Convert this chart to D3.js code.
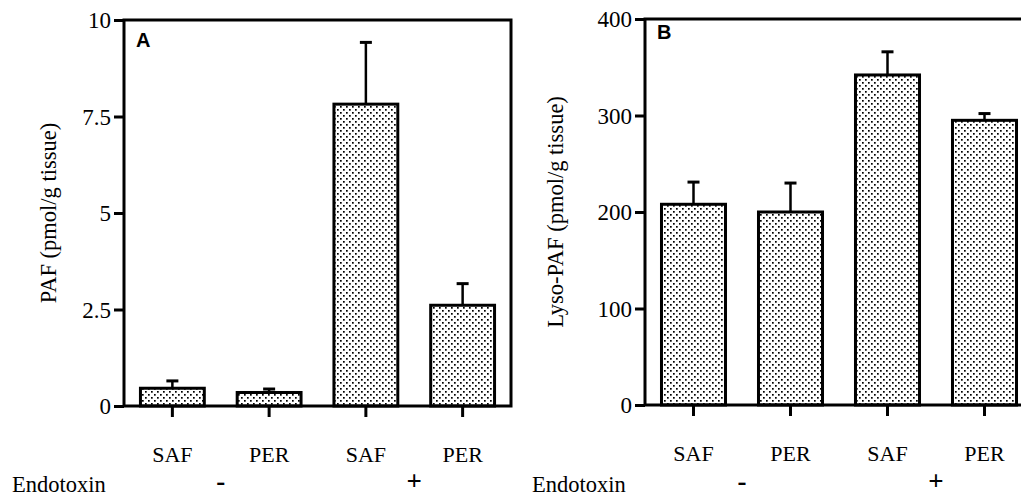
<!DOCTYPE html>
<html><head><meta charset="utf-8">
<script src="https://cdn.jsdelivr.net/npm/d3@7"></script>
<style>html,body{margin:0;padding:0;background:#fff;}svg{display:block;}</style>
</head><body>
<svg id="chart" width="1021" height="498"></svg>
<script>
const categories = ["SAF", "PER", "SAF", "PER"];
const endotoxinGroups = ["-", "+"];
const pafMean = [0.46, 0.35, 7.82, 2.61];
const pafSem = [0.19, 0.09, 1.60, 0.56];
const lysoMean = [208, 200, 342, 295];
const lysoSem = [23, 30, 24, 7];
const pafTicks = [0, 2.5, 5, 7.5, 10];
const lysoTicks = [0, 100, 200, 300, 400];

const svg = d3.select("#chart");
const defs = svg.append("defs");
const pat = defs.append("pattern").attr("id", "dots").attr("patternUnits", "userSpaceOnUse")
  .attr("width", 6).attr("height", 6);
pat.append("rect").attr("width", 6).attr("height", 6).attr("fill", "#fff");
pat.append("rect").attr("x", 1).attr("y", 1).attr("width", 1.7).attr("height", 1.7).attr("fill", "#000");
pat.append("rect").attr("x", 4).attr("y", 4).attr("width", 1.7).attr("height", 1.7).attr("fill", "#000");

const serif = "Liberation Serif, Times New Roman, serif";

function panel(opts) {
  const {x0, x1, yTop, yBot, domainMax, ticks, tickFmt, means, sems, label, ylabel, ylabelX, endoX, letterY} = opts;
  const g = svg.append("g");
  const ids = categories.map((c, i) => i);
  const x = d3.scaleBand().domain(ids).range([x0, x1]).paddingInner(0.34).paddingOuter(0.17);
  const y = d3.scaleLinear().domain([0, domainMax]).range([yBot, yTop]);

  g.selectAll("rect.bar").data(ids).join("rect")
    .attr("x", i => x(i)).attr("width", x.bandwidth())
    .attr("y", i => y(means[i])).attr("height", i => y(0) - y(means[i]))
    .attr("fill", "url(#dots)").attr("stroke", "#000").attr("stroke-width", 3);
  const cap = 6;
  g.selectAll("line.err").data(ids).join("line")
    .attr("x1", i => x(i) + x.bandwidth() / 2).attr("x2", i => x(i) + x.bandwidth() / 2)
    .attr("y1", i => y(means[i])).attr("y2", i => y(means[i] + sems[i]))
    .attr("stroke", "#000").attr("stroke-width", 2.5);
  g.selectAll("line.cap").data(ids).join("line")
    .attr("x1", i => x(i) + x.bandwidth() / 2 - cap).attr("x2", i => x(i) + x.bandwidth() / 2 + cap)
    .attr("y1", i => y(means[i] + sems[i])).attr("y2", i => y(means[i] + sems[i]))
    .attr("stroke", "#000").attr("stroke-width", 3);

  const ya = g.append("g").attr("transform", `translate(${x0},0)`)
    .call(d3.axisLeft(y).tickValues(ticks).tickFormat(tickFmt).tickSize(10).tickPadding(3));
  ya.select(".domain").remove();
  ya.selectAll(".tick line").attr("stroke-width", 3);
  ya.selectAll("text").attr("font-family", serif).attr("font-size", 23).attr("fill", "#000").attr("dy", "0.34em");

  const xa = g.append("g").attr("transform", `translate(0,${yBot})`)
    .call(d3.axisBottom(x).tickSize(11).tickFormat(i => categories[i]).tickPadding(29));
  xa.select(".domain").remove();
  xa.selectAll(".tick line").attr("stroke-width", 3);
  xa.selectAll("text").attr("font-family", serif).attr("font-size", 22).attr("fill", "#000");

  g.append("rect").attr("x", x0).attr("y", yTop).attr("width", x1 - x0).attr("height", yBot - yTop)
    .attr("fill", "none").attr("stroke", "#000").attr("stroke-width", 3);

  g.append("text").attr("x", x0 + 12).attr("y", letterY).text(label)
    .attr("font-family", "Liberation Sans, Arial, sans-serif").attr("font-weight", "bold").attr("font-size", 20);

  g.append("text").attr("transform", `translate(${ylabelX},${(yTop + yBot) / 2}) rotate(-90)`)
    .attr("text-anchor", "middle").attr("font-family", serif).attr("font-size", 22.5).text(ylabel);

  g.append("text").attr("x", endoX).attr("y", 492).attr("font-family", serif).attr("font-size", 22.5).text("Endotoxin");
  endotoxinGroups.forEach((s, k) => {
    const cx = (x(2 * k) + x(2 * k + 1) + x.bandwidth()) / 2;
    g.append("text").attr("x", cx).attr("y", 490).attr("text-anchor", "middle")
      .attr("font-family", serif).attr("font-weight", "bold").attr("font-size", 27).text(s);
  });
}

panel({x0: 124, x1: 511, yTop: 20, yBot: 406, domainMax: 10, ticks: pafTicks,
  tickFmt: d => String(d), means: pafMean, sems: pafSem, label: "A",
  ylabel: "PAF (pmol/g tissue)", ylabelX: 56, endoX: 12, letterY: 47});
panel({x0: 645, x1: 1033, yTop: 19, yBot: 405, domainMax: 400, ticks: lysoTicks,
  tickFmt: d => String(d), means: lysoMean, sems: lysoSem, label: "B",
  ylabel: "Lyso-PAF (pmol/g tissue)", ylabelX: 563, endoX: 532, letterY: 39});
</script>
</body></html>
